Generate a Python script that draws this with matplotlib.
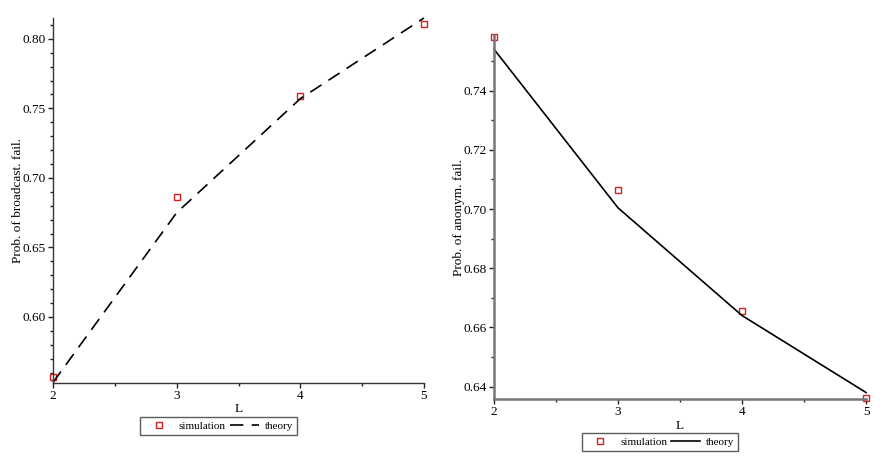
import numpy as np
import matplotlib
matplotlib.use("Agg")
import matplotlib.pyplot as plt
from matplotlib.ticker import MultipleLocator

plt.rcParams['font.family'] = ['Liberation Serif', 'DejaVu Serif']
plt.rcParams['font.size'] = 9

# Data
L = [2, 3, 4, 5]
bcast_sim = [0.557, 0.686, 0.759, 0.811]
bcast_theory = [0.553, 0.675, 0.757, 0.815]
anon_sim = [0.758, 0.7065, 0.6655, 0.6363]
anon_theory = [0.754, 0.7004, 0.664, 0.638]

fig = plt.figure(figsize=(8.93, 4.65), dpi=100)
ax1 = fig.add_axes([0.0594, 0.1763, 0.4154, 0.785])
ax2 = fig.add_axes([0.5532, 0.1413, 0.4166, 0.7834])


def style(ax, ymaj, ymin, axcol, lw):
    for s in ['top', 'right']:
        ax.spines[s].set_visible(False)
    for s in ['left', 'bottom']:
        ax.spines[s].set_color(axcol)
        ax.spines[s].set_linewidth(lw)
    ax.set_xlim(2, 5)
    ax.xaxis.set_major_locator(MultipleLocator(1))
    ax.xaxis.set_minor_locator(MultipleLocator(0.5))
    ax.yaxis.set_major_locator(MultipleLocator(ymaj))
    ax.yaxis.set_minor_locator(MultipleLocator(ymin))
    ax.tick_params(which='major', length=3.5, width=1, color='#222222', labelsize=9.5, pad=1.5)
    ax.tick_params(which='minor', length=2.5, width=1, color='#222222')
    ax.set_xlabel('L', fontsize=9.5, labelpad=1)


def legend(ax, x, y):
    ax.legend(loc='center', bbox_to_anchor=(x, y), bbox_transform=fig.transFigure,
              ncol=2, frameon=True, fancybox=False, edgecolor='#333333', fontsize=8,
              handlelength=2.6, columnspacing=0.4, handletextpad=0.5, borderpad=0.35,
              borderaxespad=0)


# left: broadcast failure
ax1.plot(L, bcast_sim, 's', mfc='none', mec='#d42020', ms=5, mew=1, label='simulation', clip_on=False)
ax1.plot(L, bcast_theory, color='black', lw=1.2, dashes=(8, 5), label='theory', clip_on=False)
ax1.set_ylim(0.5525, 0.815)
style(ax1, 0.05, 0.01, '#333333', 1.0)
ax1.yaxis.set_major_formatter(plt.FormatStrFormatter('%.2f'))
ax1.set_ylabel('Prob. of broadcast. fail.', fontsize=9.5, labelpad=-1)
legend(ax1, 0.2447, 0.0839)

# right: anonymity failure
ax2.plot(L, anon_sim, 's', mfc='none', mec='#d42020', ms=5, mew=1, label='simulation', clip_on=False)
ax2.plot(L, anon_theory, color='black', lw=1.2, label='theory', clip_on=False)
ax2.set_ylim(0.6357, 0.7588)
style(ax2, 0.02, 0.01, '#777777', 1.8)
ax2.yaxis.set_major_formatter(plt.FormatStrFormatter('%.2f'))
ax2.set_ylabel('Prob. of anonym. fail.', fontsize=9.5, labelpad=-1)
legend(ax2, 0.739, 0.0495)

fig.savefig('out.png', dpi=100)
